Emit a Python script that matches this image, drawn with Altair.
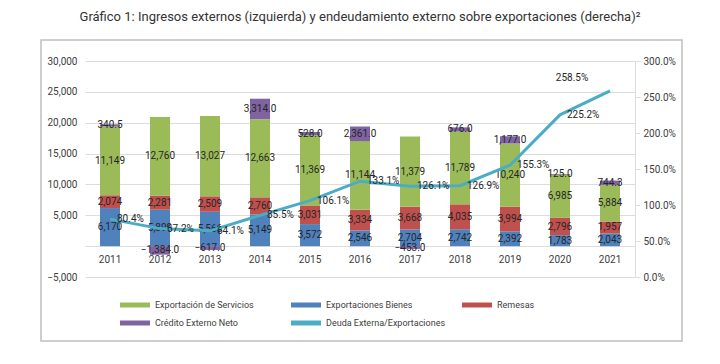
import altair as alt
import pandas as pd

years = ["2011", "2012", "2013", "2014", "2015", "2016", "2017", "2018", "2019", "2020", "2021"]
bienes = [6170, 5899, 5566, 5149, 3572, 2546, 2704, 2742, 2392, 1783, 2043]
remesas = [2074, 2281, 2509, 2760, 3031, 3334, 3668, 4035, 3994, 2796, 1957]
servicios = [11149, 12760, 13027, 12663, 11369, 11144, 11379, 11789, 10240, 6985, 5884]
credito = [340.5, -1384.0, -617.0, 3314.0, 528.0, 2361.0, -453.0, 676.0, 1177.0, 125.0, 744.3]
deuda = [80.4, 67.2, 64.1, 85.5, 106.1, 133.1, 126.1, 126.9, 155.3, 225.2, 258.5]

series_names = ["Exportación de Servicios", "Exportaciones Bienes", "Remesas",
                "Crédito Externo Neto", "Deuda Externa/Exportaciones"]
series_colors = ["#9bbb59", "#4f81bd", "#c0504d", "#8064a2", "#4bacc6"]

left_ticks = [-5000, 0, 5000, 10000, 15000, 20000, 25000, 30000]
right_ticks = [0, 50, 100, 150, 200, 250, 300]

title_text = "Gráfico 1: Ingresos externos (izquierda) y endeudamiento externo sobre exportaciones (derecha)²"

rows = []
for name, vals, order in [("Exportaciones Bienes", bienes, 0), ("Remesas", remesas, 1),
                          ("Exportación de Servicios", servicios, 2), ("Crédito Externo Neto", credito, 3)]:
    for y, v in zip(years, vals):
        rows.append({"year": y, "serie": name, "value": v, "order": order})
bars_df = pd.DataFrame(rows)
line_df = pd.DataFrame({"year": years, "ratio": deuda})

x_enc = alt.X("year:N", sort=years,
              scale=alt.Scale(paddingInner=0.6, paddingOuter=0.3),
              axis=alt.Axis(title=None, labelAngle=0, domain=False, ticks=False, labelPadding=8,
                            offset=-31, labelFontSize=10, labelColor="#404040", grid=False))

yl_scale = alt.Scale(domain=[-5000, 30000], nice=False, zero=False)
yl_axis = alt.Axis(title=None, values=left_ticks,
                   labelExpr="datum.value == 0 ? '' : format(datum.value, ',')",
                   domain=False, ticks=False, labelPadding=8, grid=True, gridColor="#dcdcdc",
                   gridWidth=1.2, labelFontSize=10, labelColor="#404040")

yr_scale = alt.Scale(domain=[0, 300], nice=False)
yr_axis = alt.Axis(title=None, orient="right", values=right_ticks,
                   labelExpr="format(datum.value, '.1f') + '%'", grid=False,
                   domain=True, domainColor="#dcdcdc", ticks=True, tickColor="#dcdcdc",
                   tickSize=5, labelPadding=3, labelFontSize=10, labelColor="#404040")

legend = alt.Legend(title=None, orient="none", legendX=45, legendY=239, columns=3,
                    direction="horizontal", symbolType="M-3,-0.5L3,-0.5L3,0.5L-3,0.5Z",
                    symbolSize=100, symbolStrokeWidth=0, symbolOpacity=1, labelOffset=15,
                    labelFontSize=9, labelColor="#404040", rowPadding=8, columnPadding=16,
                    gridAlign="all", padding=0)

bars = alt.Chart(bars_df).mark_bar().encode(
    x=x_enc,
    y=alt.Y("value:Q", stack="zero", scale=yl_scale, axis=yl_axis),
    color=alt.Color("serie:N", scale=alt.Scale(domain=series_names, range=series_colors), legend=legend),
    order=alt.Order("order:Q"),
)

bar_text = alt.Chart(bars_df).transform_stack(
    stack="value", groupby=["year"], as_=["v0", "v1"],
    sort=[alt.SortField("order", order="ascending")]
).transform_calculate(
    mid="(datum.v0 + datum.v1) / 2",
    label="datum.order == 3 ? format(datum.value, ',.1f') : format(datum.value, ',.0f')",
).mark_text(fontSize=10, color="#262626").encode(
    x=x_enc,
    y=alt.Y("mid:Q", scale=yl_scale, axis=yl_axis),
    text="label:N",
)

line = alt.Chart(line_df).mark_line(color="#4bacc6", strokeWidth=3).encode(
    x=x_enc,
    y=alt.Y("ratio:Q", scale=yr_scale, axis=yr_axis),
)

line_text = alt.Chart(line_df).transform_filter("datum.year != '2021'").transform_calculate(
    label="format(datum.ratio, '.1f') + '%'"
).mark_text(align="left", dx=7, fontSize=10, color="#262626").encode(
    x=x_enc,
    y=alt.Y("ratio:Q", scale=yr_scale, axis=yr_axis),
    text="label:N",
)

line_text_last = alt.Chart(line_df).transform_filter("datum.year == '2021'").transform_calculate(
    label="format(datum.ratio, '.1f') + '%'"
).mark_text(align="center", dx=-38, dy=-13, fontSize=10, color="#262626").encode(
    x=x_enc,
    y=alt.Y("ratio:Q", scale=yr_scale, axis=yr_axis),
    text="label:N",
)

frame = alt.Chart(pd.DataFrame({"a": [0]})).mark_rect(
    fill="white", fillOpacity=0, stroke="#bfbfbf", strokeWidth=1.5
).encode(x=alt.value(-44), x2=alt.value(597), y=alt.value(-21), y2=alt.value(280))

chart = alt.layer(
    frame,
    alt.layer(bars, bar_text),
    alt.layer(line, line_text, line_text_last),
).resolve_scale(y="independent").properties(
    width=550, height=216,
    autosize=alt.AutoSizeParams(type="none"),
    padding={"left": 77, "top": 53, "right": 77, "bottom": 79},
    title=alt.TitleParams(text=title_text, fontSize=13, font="Roboto", fontWeight="normal",
                          color="#333333", anchor="middle", frame="group", offset=2,
                          baseline="bottom"),
).configure(font="Roboto").configure_view(stroke="transparent")

chart.save("out.html", embed_options={"renderer": "svg", "actions": False})
